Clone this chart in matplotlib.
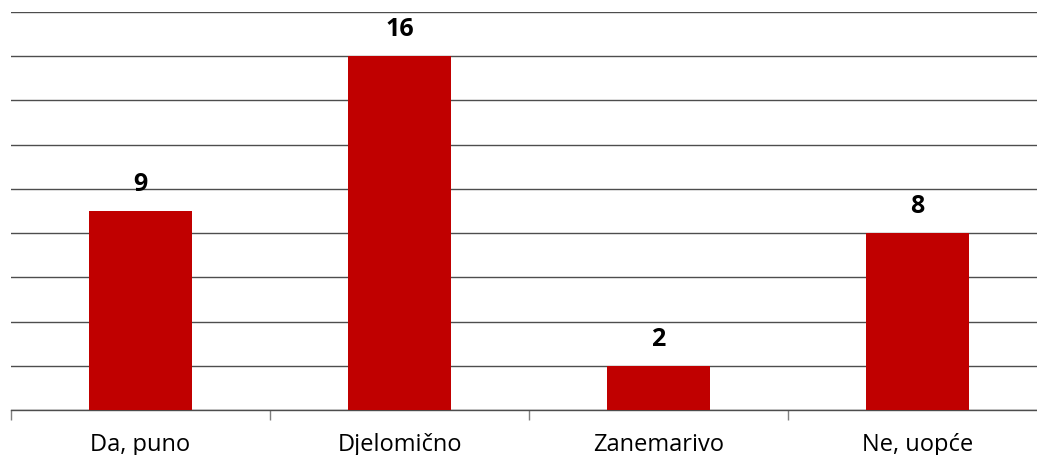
import matplotlib
matplotlib.use("Agg")
import matplotlib.pyplot as plt

# Chart data
categories = ['Da, puno', 'Djelomično', 'Zanemarivo', 'Ne, uopće']
values = [9, 16, 2, 8]

bar_color = '#C00000'

fig = plt.figure(figsize=(10.37, 4.56), dpi=100)
ax = fig.add_axes([11 / 1037, 45 / 456, 1036 / 1037, 398 / 456])

x = list(range(len(categories)))
ax.bar(x, values, width=0.4, color=bar_color, zorder=3)

ax.set_xlim(-0.5, len(categories) - 0.5)
ax.set_ylim(0, 18)
ax.set_yticks(range(0, 19, 2))
ax.yaxis.grid(True, color='#4d4d4d', linewidth=1.0, zorder=0)
ax.tick_params(axis='y', left=False, labelleft=False)

# category boundaries as tick marks, labels in between
ax.set_xticks([i - 0.5 for i in range(len(categories) + 1)])
ax.set_xticklabels([])
ax.set_xticks(x, minor=True)
ax.set_xticklabels(categories, minor=True, fontsize=17, family='Open Sans')
ax.tick_params(axis='x', which='major', length=7, width=1, color='#7f7f7f', direction='out')
ax.tick_params(axis='x', which='minor', length=0, pad=16)

for side in ['top', 'right', 'left']:
    ax.spines[side].set_visible(False)
ax.spines['bottom'].set_color('#4d4d4d')
ax.spines['bottom'].set_linewidth(1.0)

for xi, v in zip(x, values):
    ax.annotate(str(v), (xi, v), xytext=(0, 15), textcoords='offset points',
                ha='center', va='baseline', fontsize=18, fontweight='bold',
                family=['Open Sans', 'DejaVu Sans'], color='black')

fig.savefig('out.png', dpi=100)
